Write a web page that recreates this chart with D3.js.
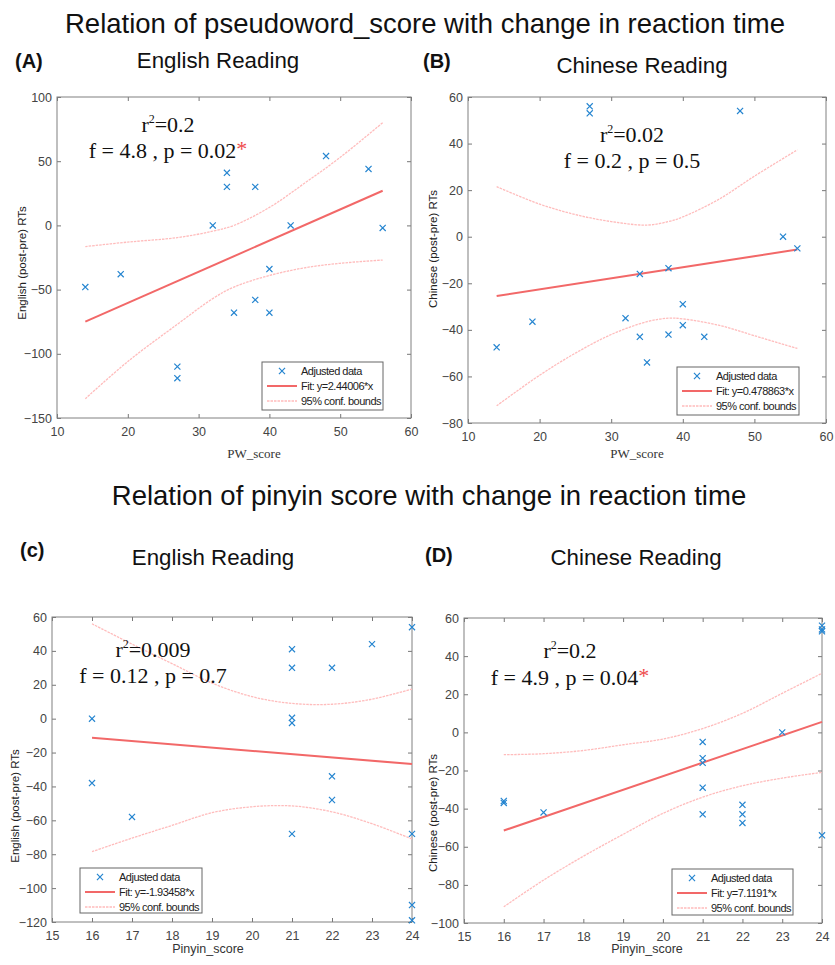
<!DOCTYPE html>
<html lang="en">
<head>
    <meta charset="UTF-8">
    <title>pseudoword / pinyin score vs RT change</title>
    <style>
        body{
            margin: 0;
            overflow: hidden;
            background: #fff;
        }
    </style>
</head>
<body>
    <script src="https://cdnjs.cloudflare.com/ajax/libs/d3/7.8.2/d3.min.js"></script>
    <script>

// ---- data ----
const pwScoreA = [14,19,27,27,32,34,34,35,38,38,40,40,43,48,54,56]
const engRtA   = [-48,-38,-110,-119,0,41,30,-68,30,-58,-34,-68,0,54,44,-2]

const pwScoreB = [14,19,27,27,32,34,34,35,38,38,40,40,43,48,54,56]
const chnRtB   = [-47.5,-36.5,56,53,-35,-16,-43,-54,-13.5,-42,-29,-38,-43,54,0,-5]

const pinyinC  = [16,16,17,21,21,21,21,21,22,22,22,23,24,24,24,24]
const engRtC   = [0,-38,-58,41,30,0.5,-2.5,-68,30,-34,-48,44,54,-68,-110,-119]

const pinyinD  = [16,16,17,21,21,21,21,21,22,22,22,23,24,24,24,24]
const chnRtD   = [-36,-37,-42,-5,-13.5,-16,-29,-43,-38,-43,-47.5,0,56,54,53,-54]

// fitted line end points
const fitXA = [14,56], fitYA = [-75,27]
const fitXB = [14,56], fitYB = [-25.5,-5.5]
const fitXC = [16,24], fitYC = [-11.3,-26.8]
const fitXD = [16,24], fitYD = [-51.5,5.5]

// 95% confidence bounds
const boundXA = [14,20,27,32,35,40,45,50,56]
const upperA  = [-16.5,-13,-9.5,-4.5,0,14,33,53,80]
const lowerA  = [-135,-106,-77,-57,-48,-39,-33,-29.5,-27]

const boundXB = [14,20,25,30,35,38,40,45,50,56]
const upperB  = [21.5,14,9.5,6.5,5,6.5,8.5,16,26,37.3]
const lowerB  = [-72.6,-59.5,-50,-42,-36.5,-35,-35.3,-38,-42.5,-48]

const boundXC = [16,17,18,19,20,21,22,23,24]
const upperC  = [56,44,32.5,21,13,9,8.5,11.5,17.5]
const lowerC  = [-78.5,-70.5,-63,-55.5,-52,-51.5,-55,-62,-71]

const boundXD = [16,17,18,19,20,21,22,23,24]
const upperD  = [-11.7,-11.2,-9.5,-6.5,-3.5,2,10,20.5,31]
const lowerD  = [-91.5,-77.5,-65,-53.5,-42.5,-34,-28,-24,-21]

// ticks
const xTicksPW     = [10,20,30,40,50,60]
const xTicksPinyin = [15,16,17,18,19,20,21,22,23,24]
const yTicksA = [-150,-100,-50,0,50,100]
const yTicksB = [-80,-60,-40,-20,0,20,40,60]
const yTicksC = [-120,-100,-80,-60,-40,-20,0,20,40,60]
const yTicksD = [-100,-80,-60,-40,-20,0,20,40,60]

// text
const mainTitles = ['Relation of pseudoword_score with change in reaction time',
                    'Relation of pinyin score with change in reaction time']
const panelTags   = ['(A)','(B)','(c)','(D)']
const panelTitles = ['English Reading','Chinese Reading','English Reading','Chinese Reading']
const yLabels = ['English (post-pre) RTs','Chinese (post-pre) RTs','English (post-pre) RTs','Chinese (post-pre) RTs']
const xLabels = ['PW_score','PW_score','Pinyin_score','Pinyin_score']
const r2Text  = ['0.2','0.02','0.009','0.2']
const fpText  = ['f = 4.8 , p = 0.02','f = 0.2 , p = 0.5','f = 0.12 , p = 0.7','f = 4.9 , p = 0.04']
const signif  = [true,false,false,true]
const fitLabels = ['Fit: y=2.44006*x','Fit: y=0.478863*x','Fit: y=-1.93458*x','Fit: y=7.1191*x']
const legendLabels = ['Adjusted data','','95% conf. bounds']

const blue = '#2585d0', red = '#f26868', pink = '#ffbcbc'

// layout for each panel
const panels = [
  {xs:pwScoreA, ys:engRtA, fx:fitXA, fy:fitYA, bx:boundXA, up:upperA, lo:lowerA,
   xd:[10,60], yd:[-150,100], xt:xTicksPW, yt:yTicksA,
   box:[57,411,97,418], tag:[15,68], title:[218,68], ylab:[22,263], xlab:[254,458], xlabSerif:true,
   stats:[168,132,158], legend:[262,362,121,48]},
  {xs:pwScoreB, ys:chnRtB, fx:fitXB, fy:fitYB, bx:boundXB, up:upperB, lo:lowerB,
   xd:[10,60], yd:[-80,60], xt:xTicksPW, yt:yTicksB,
   box:[468,826,97,423], tag:[423,68], title:[642,73], ylab:[433,249], xlab:[637,458], xlabSerif:true,
   stats:[632,142,168], legend:[677,367,122,48]},
  {xs:pinyinC, ys:engRtC, fx:fitXC, fy:fitYC, bx:boundXC, up:upperC, lo:lowerC,
   xd:[15,24], yd:[-120,60], xt:xTicksPinyin, yt:yTicksC,
   box:[52,412,617,922], tag:[20,557], title:[213,565], ylab:[15,806], xlab:[208,953], xlabSerif:false,
   stats:[153,657,683], legend:[80,868,122,45]},
  {xs:pinyinD, ys:chnRtD, fx:fitXD, fy:fitYD, bx:boundXD, up:upperD, lo:lowerD,
   xd:[15,24], yd:[-100,60], xt:xTicksPinyin, yt:yTicksD,
   box:[464,822,618,923], tag:[425,562], title:[636,565], ylab:[433,813], xlab:[647,953], xlabSerif:false,
   stats:[570,658,685], legend:[672,869,121,46]}
]

const svg = d3.select('body').append('svg')
  .attr('width',835).attr('height',965)
  .style('font-family','"Liberation Sans", Arial, sans-serif')

svg.selectAll('text.main')
  .data(mainTitles)
  .join('text')
  .attr('class','main')
  .attr('x',(d,i)=> i==0 ? 425 : 429)
  .attr('y',(d,i)=> i==0 ? 33 : 505)
  .attr('text-anchor','middle')
  .attr('font-size',27.5)
  .attr('fill','#111')
  .text(d=>d)

const crossPath = d3.symbol(d3.symbolX, 26)()

panels.forEach((p,i)=>{
  const [x0,x1,y0,y1] = p.box
  const x = d3.scaleLinear().domain(p.xd).range([x0,x1])
  const y = d3.scaleLinear().domain(p.yd).range([y1,y0])
  const g = svg.append('g')

  // tag + title
  g.append('text').attr('x',p.tag[0]).attr('y',p.tag[1])
    .attr('font-size',20).attr('font-weight','bold').attr('fill','#111')
    .text(panelTags[i])
  g.append('text').attr('x',p.title[0]).attr('y',p.title[1])
    .attr('text-anchor','middle').attr('font-size',22.3).attr('fill','#111')
    .text(panelTitles[i])

  // axes (MATLAB style: inward ticks on all sides)
  g.append('g').attr('transform',`translate(0,${y1})`)
    .call(d3.axisBottom(x).tickValues(p.xt).tickSizeInner(-4).tickSizeOuter(0).tickPadding(9))
  g.append('g').attr('transform',`translate(${x0},0)`)
    .call(d3.axisLeft(y).tickValues(p.yt).tickSizeInner(-4).tickSizeOuter(0).tickPadding(5))
  g.append('g').attr('transform',`translate(0,${y0})`)
    .call(d3.axisTop(x).tickValues(p.xt).tickSizeInner(-4).tickSizeOuter(0).tickFormat(''))
  g.append('g').attr('transform',`translate(${x1},0)`)
    .call(d3.axisRight(y).tickValues(p.yt).tickSizeInner(-4).tickSizeOuter(0).tickFormat(''))
  g.selectAll('.domain').remove()
  g.selectAll('.tick line').attr('stroke','#777')
  g.selectAll('.tick text').attr('font-size',12.5).attr('fill','#444')
    .attr('font-family','"Liberation Sans", Arial, sans-serif')

  g.append('rect').attr('x',x0).attr('y',y0).attr('width',x1-x0).attr('height',y1-y0)
    .attr('fill','none').attr('stroke','#808080').attr('stroke-width',1)

  // axis labels
  g.append('text')
    .attr('transform',`translate(${p.ylab[0]},${p.ylab[1]}) rotate(-90)`)
    .attr('text-anchor','middle').attr('dy','0.35em')
    .attr('font-size',11.5).attr('fill','#222')
    .text(yLabels[i])
  g.append('text').attr('x',p.xlab[0]).attr('y',p.xlab[1])
    .attr('text-anchor','middle')
    .attr('font-size',p.xlabSerif ? 13 : 12.5)
    .attr('font-family',p.xlabSerif ? '"Liberation Serif", "Times New Roman", serif' : null)
    .attr('fill','#333')
    .text(xLabels[i])

  // confidence bounds
  const bline = d3.line().x(d=>x(d[0])).y(d=>y(d[1])).curve(d3.curveCatmullRom)
  ;[p.up,p.lo].forEach(arr=>{
    g.append('path')
      .datum(p.bx.map((v,k)=>[v,arr[k]]))
      .attr('d',bline)
      .attr('fill','none').attr('stroke',pink).attr('stroke-width',1.3)
      .attr('stroke-dasharray','2.5,1')
  })

  // fit
  g.append('path')
    .datum(p.fx.map((v,k)=>[v,p.fy[k]]))
    .attr('d',d3.line().x(d=>x(d[0])).y(d=>y(d[1])))
    .attr('fill','none').attr('stroke',red).attr('stroke-width',2)

  // points
  g.selectAll('path.pt')
    .data(p.xs.map((v,k)=>[v,p.ys[k]]))
    .join('path')
    .attr('class','pt')
    .attr('d',crossPath)
    .attr('transform',d=>`translate(${x(d[0])},${y(d[1])})`)
    .attr('fill','none').attr('stroke',blue).attr('stroke-width',1.2)

  // statistics text
  const st = g.append('g')
    .attr('font-family','"Liberation Serif", "Times New Roman", serif')
    .attr('font-size',22).attr('fill','#111').attr('text-anchor','middle')
  const r2 = st.append('text').attr('x',p.stats[0]).attr('y',p.stats[1])
  r2.append('tspan').text('r')
  r2.append('tspan').attr('font-size',12).attr('dy',-9).text('2')
  r2.append('tspan').attr('dy',9).text('=' + r2Text[i])
  const fp = st.append('text').attr('x',p.stats[0]).attr('y',p.stats[2])
  fp.append('tspan').text(fpText[i])
  if (signif[i]) fp.append('tspan').attr('fill','#ee4b4b').attr('dy',-2).text('*')

  // legend
  const [lx,ly,lw,lh] = p.legend
  const lg = g.append('g').attr('transform',`translate(${lx},${ly})`)
  lg.append('rect').attr('width',lw).attr('height',lh)
    .attr('fill','#fff').attr('stroke','#666').attr('stroke-width',1)
  const rows = [legendLabels[0], fitLabels[i], legendLabels[2]]
  rows.forEach((t,k)=>{
    const cy = 9 + k*15
    if (k==0) lg.append('path').attr('d',crossPath).attr('transform',`translate(20,${cy})`)
      .attr('fill','none').attr('stroke',blue).attr('stroke-width',1.2)
    if (k==1) lg.append('line').attr('x1',5).attr('x2',35).attr('y1',cy).attr('y2',cy)
      .attr('stroke',red).attr('stroke-width',2)
    if (k==2) lg.append('line').attr('x1',5).attr('x2',35).attr('y1',cy).attr('y2',cy)
      .attr('stroke',pink).attr('stroke-width',1.3).attr('stroke-dasharray','2.5,1')
    lg.append('text').attr('x',39).attr('y',cy).attr('dy','0.35em')
      .attr('font-size',11).attr('fill','#222').attr('letter-spacing',-0.5)
      .text(t)
  })
})

    </script>
</body>
</html>
